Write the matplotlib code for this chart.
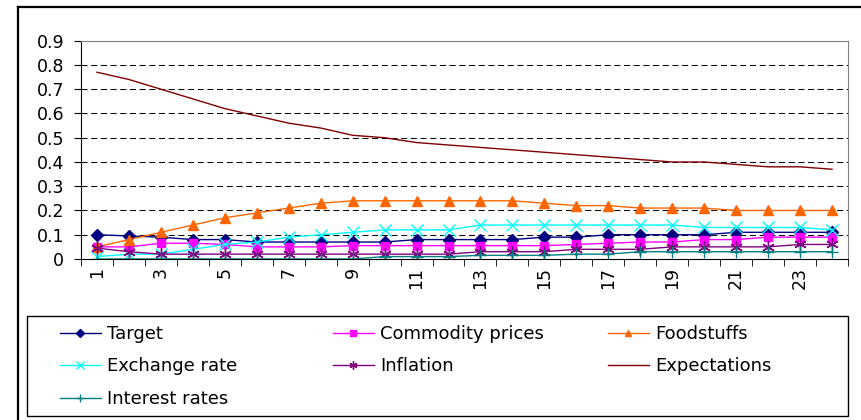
import numpy as np
import matplotlib
matplotlib.use("Agg")
import matplotlib.pyplot as plt
from matplotlib.lines import Line2D
from matplotlib.patches import Rectangle

plt.rcParams['font.family'] = ['DejaVu Sans']

periods = np.arange(1, 25)

target = [0.10, 0.095, 0.09, 0.08, 0.08, 0.07, 0.07, 0.07, 0.07, 0.07, 0.08, 0.08,
          0.08, 0.08, 0.09, 0.09, 0.10, 0.10, 0.10, 0.10, 0.11, 0.11, 0.11, 0.11]
commodity = [0.05, 0.05, 0.065, 0.065, 0.06, 0.05, 0.05, 0.05, 0.055, 0.055, 0.055, 0.055,
             0.055, 0.055, 0.055, 0.06, 0.065, 0.07, 0.07, 0.08, 0.08, 0.09, 0.09, 0.09]
foodstuffs = [0.05, 0.08, 0.11, 0.14, 0.17, 0.19, 0.21, 0.23, 0.24, 0.24, 0.24, 0.24,
              0.24, 0.24, 0.23, 0.22, 0.22, 0.21, 0.21, 0.21, 0.20, 0.20, 0.20, 0.20]
exchange = [0.01, 0.02, 0.02, 0.04, 0.06, 0.07, 0.09, 0.10, 0.11, 0.12, 0.12, 0.12,
            0.14, 0.14, 0.14, 0.14, 0.14, 0.14, 0.14, 0.13, 0.13, 0.13, 0.13, 0.12]
inflation = [0.045, 0.03, 0.02, 0.02, 0.02, 0.02, 0.02, 0.02, 0.02, 0.02, 0.02, 0.02,
             0.03, 0.03, 0.03, 0.04, 0.04, 0.04, 0.05, 0.05, 0.05, 0.05, 0.06, 0.06]
expectations = [0.77, 0.74, 0.70, 0.66, 0.62, 0.59, 0.56, 0.54, 0.51, 0.50, 0.48, 0.47,
                0.46, 0.45, 0.44, 0.43, 0.42, 0.41, 0.40, 0.40, 0.39, 0.38, 0.38, 0.37]
interest = [0.0, 0.0, 0.0, 0.0, 0.0, 0.0, 0.0, 0.0, 0.0, 0.01, 0.01, 0.01,
            0.015, 0.015, 0.015, 0.02, 0.02, 0.03, 0.03, 0.03, 0.03, 0.03, 0.03, 0.03]

W, H = 861, 420
fig = plt.figure(figsize=(W / 100, H / 100), dpi=100)
ax = fig.add_axes([81 / W, 1 - 259 / H, 767 / W, 218.3 / H])

# outer chart border
fig.add_artist(Line2D([18 / W, 18 / W], [0, 1 - 7 / H], color='black', lw=1.6))
fig.add_artist(Line2D([18 / W, 1], [1 - 7 / H, 1 - 7 / H], color='black', lw=1.6))

lines = {}
lines['Target'] = ax.plot(periods, target, color='#000080', marker='D', ms=6, lw=1)[0]
lines['Commodity prices'] = ax.plot(periods, commodity, color='#FF00FF', marker='s', ms=6, lw=1)[0]
lines['Foodstuffs'] = ax.plot(periods, foodstuffs, color='#FF6600', marker='^', ms=7.5, lw=1)[0]
lines['Exchange rate'] = ax.plot(periods, exchange, color='#00FFFF', marker='x', ms=8, mew=1, lw=1)[0]
lines['Inflation'] = ax.plot(periods, inflation, color='#800080', marker=(6, 2, 0), ms=9, mew=1, lw=1)[0]
lines['Expectations'] = ax.plot(periods, expectations, color='#800000', lw=1)[0]
lines['Interest rates'] = ax.plot(periods, interest, color='#008080', marker='+', ms=9, mew=1, lw=1)[0]

ax.set_xlim(0.5, 24.5)
ax.set_ylim(0, 0.9)
ax.set_yticks(np.arange(0, 0.91, 0.1))
ax.set_yticklabels(['0'] + ['%.1f' % v for v in np.arange(0.1, 0.91, 0.1)], fontsize=12.5)
ax.set_xticks(periods[::2])
ax.set_xticklabels([str(p) for p in periods[::2]], rotation=90, fontsize=12.5)
ax.set_xticks(np.arange(0.5, 25, 1), minor=True)
ax.tick_params(axis='x', which='major', length=0, pad=6)
ax.tick_params(axis='x', which='minor', length=5, direction='out', color='black')
ax.tick_params(axis='y', length=5, direction='out', color='black', pad=7)

for v in np.arange(0.1, 0.85, 0.1):
    ax.axhline(v, color='black', lw=0.75, ls=(0, (5.8, 3.5)), zorder=0)

ax.spines['top'].set_color('#808080')
ax.spines['right'].set_color('#808080')
ax.spines['left'].set_color('black')
ax.spines['bottom'].set_color('black')

# legend box and three columns of entries
fig.add_artist(Rectangle((27 / W, 1 - 416 / H), 821 / W, 100 / H, transform=fig.transFigure,
                         fill=False, edgecolor='black', lw=1))
columns = [['Target', 'Exchange rate', 'Interest rates'],
           ['Commodity prices', 'Inflation'],
           ['Foodstuffs', 'Expectations']]
col_x = [60, 333, 608]
for names, x0 in zip(columns, col_x):
    leg = fig.legend([lines[n] for n in names], names, loc='upper left',
                     bbox_to_anchor=(x0 / W, 1 - 325 / H), frameon=False,
                     fontsize=13, handlelength=2.27, handletextpad=0.33,
                     labelspacing=0.8, borderpad=0, borderaxespad=0, markerscale=0.65)

fig.savefig('out.png', dpi=100)
